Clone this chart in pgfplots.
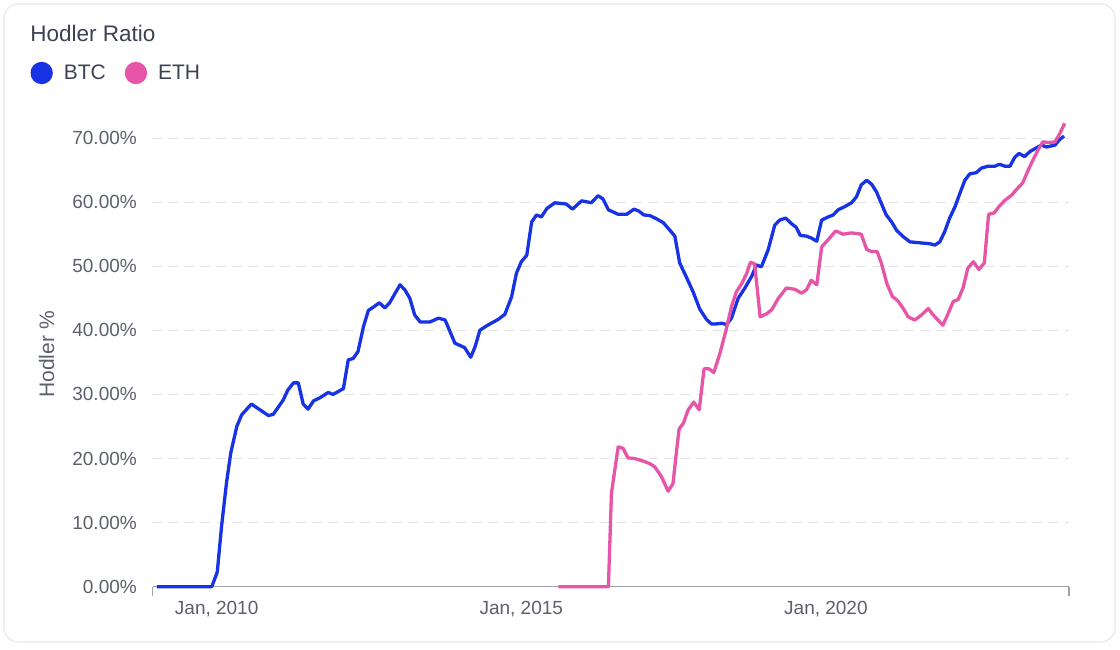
\documentclass[border=0pt]{standalone}
\usepackage{fontspec}
\setmainfont{Liberation Sans}
\usepackage{pgfplots}
\pgfplotsset{compat=1.18}
\definecolor{btc}{HTML}{1733E3}
\definecolor{eth}{HTML}{E655A8}
\definecolor{txtc}{HTML}{3D4252}
\definecolor{tickc}{HTML}{5B606C}
\definecolor{gridc}{HTML}{E2E2E6}
\definecolor{axc}{HTML}{A0A0A8}
\definecolor{cardc}{HTML}{E9E9EC}
\begin{document}
\begin{tikzpicture}
\useasboundingbox (0,0) rectangle (1120pt,-650pt);
\fill[white] (0,0) rectangle (1120pt,-650pt);
\draw[cardc, line width=1.2pt, rounded corners=14pt] (4pt,-4pt) rectangle (1115pt,-642pt);
\begin{axis}[
  at={(152.7pt,-586.7pt)}, anchor=south west,
  scale only axis, width=916.3pt, height=464.7pt,
  xmin=2008.95, xmax=2023.99, ymin=0, ymax=72.5,
  axis x line*=bottom, axis y line*=left,
  y axis line style={draw=none},
  x axis line style={draw=axc, line width=1.5pt},
  xtick={2010,2015,2020}, xticklabels={{Jan, 2010},{Jan, 2015},{Jan, 2020}},
  ytick={0,10,20,30,40,50,60,70},
  yticklabels={0.00\%,10.00\%,20.00\%,30.00\%,40.00\%,50.00\%,60.00\%,70.00\%},
  major tick length=0pt,
  extra x ticks={2008.95,2023.99}, extra x tick labels={,},
  extra x tick style={major tick length=9pt, tick align=outside, tick style={draw=axc, line width=1.2pt}},
  ymajorgrids, grid style={draw=gridc, line width=1pt, dash pattern=on 9pt off 7pt},
  tick label style={font=\fontsize{19}{20}\selectfont, text=tickc, inner sep=0pt},
  xticklabel style={anchor=north, yshift=-14.8pt},
  yticklabel style={anchor=east, xshift=-15.7pt},
  ylabel={Hodler \%},
  ylabel style={at={(axis description cs:-0.1157,0.5)}, anchor=center, font=\fontsize{21}{21}\selectfont, text=tickc, inner sep=0pt},
  title={Hodler Ratio},
  title style={at={(axis description cs:-0.1338,1.1593)}, anchor=base west, font=\fontsize{22.5}{23}\selectfont, text=txtc, inner sep=0pt},
  legend style={at={(axis description cs:-0.13336,1.10545)}, anchor=west, draw=none, fill=none, inner sep=0pt, outer sep=0pt, legend columns=2, font=\fontsize{21}{21}\selectfont, text=txtc, /tikz/every odd column/.append style={column sep=11pt}, /tikz/every even column/.append style={column sep=19pt}, nodes={inner sep=0pt}},
  legend image code/.code={\fill[#1] (9.5pt,0pt) circle (9.5pt);},
  clip=false,
]
\addplot[btc, line width=3.3pt, line join=round] table {
2009.02 0
2009.92 0
2010.01 2.3
2010.08 9.4
2010.16 16.1
2010.23 20.8
2010.33 25.0
2010.41 26.8
2010.57 28.5
2010.85 26.7
2010.93 26.9
2011.09 29.1
2011.17 30.7
2011.26 31.8
2011.34 31.8
2011.42 28.5
2011.50 27.7
2011.59 29.0
2011.70 29.5
2011.83 30.3
2011.91 30.0
2012.08 30.9
2012.16 35.4
2012.24 35.6
2012.32 36.7
2012.41 40.6
2012.49 43.1
2012.57 43.6
2012.67 44.3
2012.76 43.5
2012.84 44.3
2012.93 45.8
2013.01 47.1
2013.09 46.3
2013.17 45.0
2013.25 42.4
2013.34 41.3
2013.50 41.3
2013.64 41.9
2013.75 41.6
2013.83 39.8
2013.91 38.0
2014.07 37.3
2014.17 35.8
2014.24 37.4
2014.32 40.0
2014.43 40.7
2014.62 41.7
2014.73 42.5
2014.84 45.2
2014.92 48.9
2015.00 50.7
2015.09 51.7
2015.17 56.9
2015.25 58.0
2015.33 57.7
2015.42 59.0
2015.55 59.9
2015.74 59.7
2015.84 58.9
2015.99 60.2
2016.15 59.9
2016.26 61.0
2016.34 60.5
2016.43 58.8
2016.59 58.1
2016.73 58.1
2016.85 58.9
2016.93 58.6
2017.01 58.0
2017.11 57.9
2017.22 57.4
2017.33 56.8
2017.44 55.6
2017.52 54.7
2017.60 50.5
2017.71 48.3
2017.82 46.0
2017.93 43.3
2018.04 41.7
2018.12 41.0
2018.20 41.0
2018.29 41.1
2018.37 40.9
2018.45 41.9
2018.56 45.0
2018.67 46.6
2018.78 48.4
2018.86 50.2
2018.94 49.9
2019.05 52.5
2019.16 56.4
2019.24 57.2
2019.34 57.5
2019.44 56.6
2019.51 56.1
2019.58 54.8
2019.68 54.7
2019.76 54.4
2019.85 53.9
2019.93 57.2
2020.04 57.7
2020.12 58.0
2020.20 58.8
2020.31 59.3
2020.42 59.9
2020.50 60.8
2020.58 62.7
2020.67 63.4
2020.75 62.8
2020.83 61.6
2020.91 59.8
2020.99 58.0
2021.08 56.9
2021.16 55.6
2021.27 54.6
2021.38 53.8
2021.49 53.7
2021.60 53.6
2021.71 53.5
2021.79 53.3
2021.87 53.8
2021.95 55.4
2022.03 57.5
2022.12 59.3
2022.20 61.4
2022.28 63.4
2022.36 64.4
2022.47 64.6
2022.55 65.3
2022.66 65.6
2022.77 65.6
2022.85 65.9
2022.94 65.6
2023.02 65.6
2023.10 67.0
2023.17 67.6
2023.26 67.1
2023.35 67.9
2023.46 68.5
2023.54 68.9
2023.62 68.6
2023.76 68.9
2023.84 69.8
2023.91 70.3
};
\addlegendentry{BTC}
\addplot[eth, line width=3.3pt, line join=round] table {
2015.61 0
2016.43 0
2016.48 14.6
2016.59 21.8
2016.67 21.6
2016.75 20.1
2016.86 20.0
2017.00 19.6
2017.11 19.2
2017.19 18.7
2017.30 17.2
2017.41 14.9
2017.49 16.1
2017.55 21.3
2017.59 24.6
2017.66 25.5
2017.74 27.6
2017.83 28.8
2017.92 27.6
2018.00 34.0
2018.08 34.0
2018.16 33.4
2018.26 36.4
2018.36 40.0
2018.45 43.7
2018.53 46.0
2018.62 47.3
2018.70 48.9
2018.76 50.6
2018.83 50.4
2018.92 42.1
2019.03 42.6
2019.11 43.2
2019.22 45.0
2019.35 46.6
2019.49 46.4
2019.60 45.8
2019.68 46.3
2019.76 47.8
2019.85 47.1
2019.93 53.0
2020.06 54.4
2020.16 55.5
2020.28 55.0
2020.42 55.2
2020.58 55.0
2020.67 52.6
2020.75 52.3
2020.84 52.3
2020.91 50.5
2021.00 47.3
2021.09 45.3
2021.18 44.6
2021.27 43.4
2021.35 42.1
2021.46 41.6
2021.57 42.4
2021.68 43.4
2021.76 42.4
2021.84 41.6
2021.92 40.8
2022.01 42.7
2022.09 44.5
2022.17 44.8
2022.25 46.6
2022.33 49.7
2022.42 50.7
2022.51 49.5
2022.60 50.5
2022.67 58.1
2022.76 58.3
2022.84 59.3
2022.94 60.3
2023.05 61.1
2023.13 62.0
2023.23 63.0
2023.32 65.0
2023.40 66.6
2023.48 68.1
2023.56 69.4
2023.65 69.3
2023.76 69.4
2023.84 70.7
2023.92 72.3
};
\addlegendentry{ETH}
\end{axis}
\end{tikzpicture}
\end{document}
